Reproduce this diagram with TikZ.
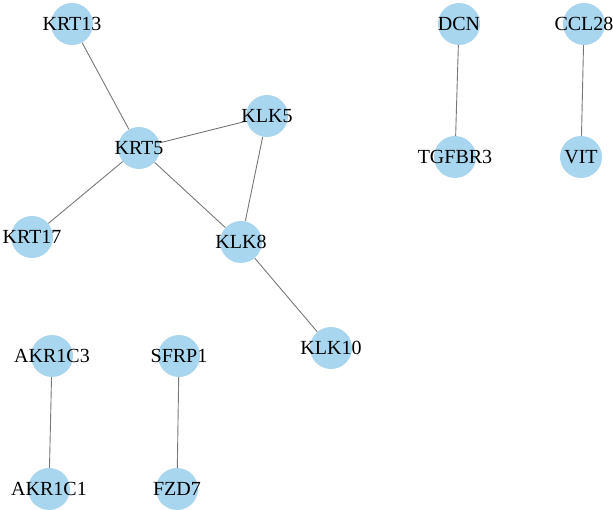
\documentclass[tikz,border=0pt]{standalone}
\usepackage{fontspec}
\setmainfont{Liberation Serif}
\usetikzlibrary{backgrounds}
\definecolor{nodeblue}{RGB}{168,214,238}
\definecolor{edgegray}{RGB}{120,120,120}
\tikzset{
  gene/.style={circle, fill=nodeblue, draw=none, minimum size=42pt, inner sep=0pt},
  genelbl/.style={font=\fontsize{20}{22}\selectfont, text=black, inner sep=0pt},
  link/.style={draw=edgegray, line width=0.9pt}
}
\begin{document}
\begin{tikzpicture}[x=1pt,y=-1pt]
\useasboundingbox (0,0) rectangle (613,510);
\node[gene, label={[genelbl]center:KRT13}] (krt13) at (72,24) {};
\node[gene, label={[genelbl]center:KRT5}] (krt5) at (139,148) {};
\node[gene, label={[genelbl]center:KLK5}] (klk5) at (267,116) {};
\node[gene, label={[genelbl]center:KRT17}] (krt17) at (32,237) {};
\node[gene, label={[genelbl]center:KLK8}] (klk8) at (241,242) {};
\node[gene, label={[genelbl]center:KLK10}] (klk10) at (331,348) {};
\node[gene, label={[genelbl]center:DCN}] (dcn) at (459,24) {};
\node[gene, label={[genelbl]center:TGFBR3}] (tgfbr3) at (455,157) {};
\node[gene, label={[genelbl]center:CCL28}] (ccl28) at (584,24) {};
\node[gene, label={[genelbl]center:VIT}] (vit) at (581,157) {};
\node[gene, label={[genelbl]center:AKR1C3}] (akr1c3) at (52,356) {};
\node[gene, label={[genelbl]center:AKR1C1}] (akr1c1) at (49,489) {};
\node[gene, label={[genelbl]center:SFRP1}] (sfrp1) at (179,356) {};
\node[gene, label={[genelbl]center:FZD7}] (fzd7) at (177,489) {};
\begin{scope}[on background layer]
\draw[link] (krt13) -- (krt5);
\draw[link] (krt5) -- (klk5);
\draw[link] (krt5) -- (krt17);
\draw[link] (krt5) -- (klk8);
\draw[link] (klk5) -- (klk8);
\draw[link] (klk8) -- (klk10);
\draw[link] (dcn) -- (tgfbr3);
\draw[link] (ccl28) -- (vit);
\draw[link] (akr1c3) -- (akr1c1);
\draw[link] (sfrp1) -- (fzd7);
\end{scope}
\end{tikzpicture}
\end{document}
